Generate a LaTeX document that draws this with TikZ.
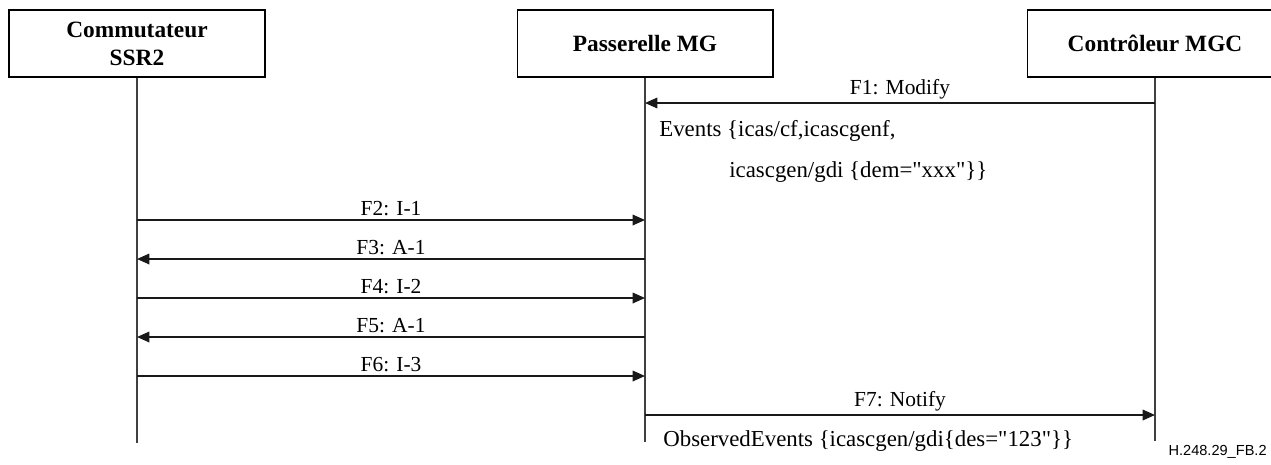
\documentclass[tikz,border=0pt]{standalone}
\usepackage{fontspec}
\setmainfont{Liberation Serif}
\newfontfamily\figfont{Liberation Sans}
\usetikzlibrary{arrows.meta,positioning}

\begin{document}
\begin{tikzpicture}[x=0.02cm, y=-0.02cm,
        actor/.style={draw, line width=0.6pt, minimum width=5.12cm, minimum height=1.34cm, align=center, font=\fontsize{13.3}{15.8}\selectfont\bfseries},
        life/.style={line width=0.6pt, draw=black!75},
        msg/.style={line width=0.9pt, draw=black!90, -{Triangle[length=7pt,width=6pt]}},
        lbl/.style={midway, above, inner sep=2pt, font=\fontsize{12.2}{14}\selectfont},
        txt/.style={anchor=west, inner sep=0pt, font=\fontsize{13}{15}\selectfont}]
        \useasboundingbox (0,0) rectangle (1271,464);

        % Boxes
        \node[actor] (ssr) at (137,43.5) {Commutateur\\SSR2};
        \node[actor] (mg) at (645,43.5) {Passerelle MG};
        \node[actor] (mgc) at (1155,43.5) {Contrôleur MGC};

        % Lifelines
        \coordinate (ssrend) at (137,443);
        \coordinate (mgend) at (645,442);
        \coordinate (mgcend) at (1155,441);
        \draw[life] (ssr) -- (ssrend);
        \draw[life] (mg) -- (mgend);
        \draw[life] (mgc) -- (mgcend);

        % Message points on the lifelines
        \foreach \n/\y in {1/103,2/220,3/259,4/298,5/337,6/376,7/415} {
            \coordinate (ssr\n) at (137,\y);
            \coordinate (mg\n) at (645,\y);
            \coordinate (mgc\n) at (1155,\y);
        }

        % Messages
        \draw[msg] (mgc1) -- node[lbl] {F1: Modify} (mg1);
        \node[txt] (ev1) at (659,131) {Events \{icas/cf,icascgenf,};
        \node[txt] (ev2) at (729,172) {icascgen/gdi \{dem=\textquotedbl xxx\textquotedbl\}\}};
        \draw[msg] (ssr2) -- node[lbl] {F2: I-1} (mg2);
        \draw[msg] (mg3) -- node[lbl] {F3: A-1} (ssr3);
        \draw[msg] (ssr4) -- node[lbl] {F4: I-2} (mg4);
        \draw[msg] (mg5) -- node[lbl] {F5: A-1} (ssr5);
        \draw[msg] (ssr6) -- node[lbl] {F6: I-3} (mg6);
        \draw[msg] (mg7) -- node[lbl] {F7: Notify} (mgc7);
        \node[txt] (obs) at (663,441) {ObservedEvents \{icascgen/gdi\{des=\textquotedbl 123\textquotedbl\}\}};

        % Figure code
        \node[anchor=east, inner sep=0pt, font=\figfont\fontsize{8.3}{10}\selectfont] (code) at (1267,452) {H.248.29\_FB.2};
\end{tikzpicture}
\end{document}
